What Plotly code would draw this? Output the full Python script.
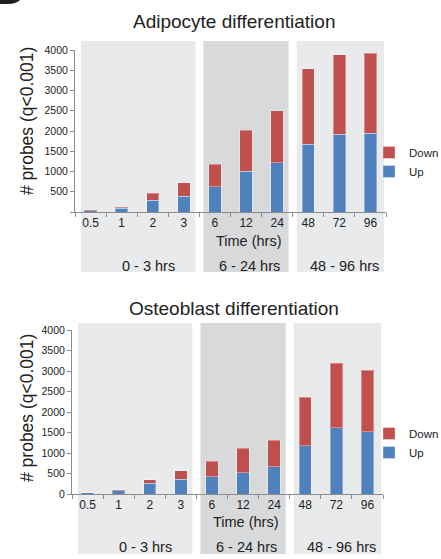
import plotly.graph_objects as go

categories = ["0.5", "1", "2", "3", "6", "12", "24", "48", "72", "96"]
adipo_up = [30, 90, 295, 390, 618, 1005, 1222, 1672, 1918, 1940]
adipo_total = [48, 115, 465, 718, 1175, 2020, 2500, 3540, 3885, 3915]
osteo_up = [30, 80, 266, 363, 419, 524, 669, 1183, 1620, 1523]
osteo_total = [34, 105, 347, 572, 798, 1120, 1314, 2357, 3191, 3021]
adipo_down = [t - u for t, u in zip(adipo_total, adipo_up)]
osteo_down = [t - u for t, u in zip(osteo_total, osteo_up)]

ytick_vals = [0, 500, 1000, 1500, 2000, 2500, 3000, 3500, 4000]
ytick_text_top = [""] + [str(v) for v in ytick_vals[1:]]
ytick_text_bottom = [str(v) for v in ytick_vals]
group_labels = ["0 - 3 hrs", "6 - 24 hrs", "48 - 96 hrs"]
group_label_pos = [1.87, 5.12, 8.15]
titles = ["Adipocyte differentiation", "Osteoblast differentiation"]

RED = "#c0504d"
BLUE = "#4f81bd"
FONT = "Liberation Sans, Arial, sans-serif"
W, H = 441, 559

fig = go.Figure()
for ax, up, down, leg in [("", adipo_up, adipo_down, "legend"),
                          ("2", osteo_up, osteo_down, "legend2")]:
    fig.add_trace(go.Bar(x=categories, y=up, name="Up", marker_color=BLUE,
                         marker_line=dict(color="rgba(255,255,255,0.35)", width=1),
                         xaxis="x" + ax, yaxis="y" + ax, legend=leg))
    fig.add_trace(go.Bar(x=categories, y=down, name="Down", marker_color=RED,
                         marker_line=dict(color="rgba(255,255,255,0.35)", width=1),
                         xaxis="x" + ax, yaxis="y" + ax, legend=leg))

def px_x(p):
    return p / W

def px_y(p):
    return (H - p) / H

# subplot pixel geometry: (x_left, x_right, y_top(4000), y_bottom(0))
geo = {"": (75, 386, 50, 212), "2": (72, 383, 330, 494)}

axis_common = dict(linecolor="#8c8c8c", linewidth=1, ticks="outside", ticklen=4,
                   tickcolor="#8c8c8c", showgrid=False, zeroline=False,
                   tickfont=dict(family=FONT, size=12, color="#222"))

layout = dict(width=W, height=H, barmode="stack", bargap=0.6,
              margin=dict(l=0, r=0, t=0, b=0, autoexpand=False), paper_bgcolor="white",
              plot_bgcolor="rgba(0,0,0,0)", font=dict(family=FONT, color="#222"),
              showlegend=True)

shapes = []
annotations = []
panel_ranges = [(-0.31, 3.37, "#e9eaeb"), (3.63, 6.37, "#d8d9db"), (6.63, 9.44, "#e9eaeb")]
panel_y = {"": (41, 272), "2": (323, 554)}
legend_y = {"": 138, "2": 419}
title_y = {"": 21, "2": 308}
time_y = {"": 241, "2": 522}
group_y = {"": 266, "2": 547}

for ax, ticktext in [("", ytick_text_top), ("2", ytick_text_bottom)]:
    xl, xr, yt, yb = geo[ax]
    layout["xaxis" + ax] = dict(axis_common, domain=[px_x(xl), px_x(xr)], type="category",
                                range=[-0.5, 9.5], tickson="boundaries",
                                anchor="y" + ax, fixedrange=True)
    layout["yaxis" + ax] = dict(axis_common, domain=[px_y(yb), px_y(yt)], range=[0, 4000],
                                tickvals=ytick_vals, ticktext=ticktext,
                                tickfont=dict(family=FONT, size=10.5, color="#222"),
                                anchor="x" + ax, fixedrange=True)
    pt, pb = panel_y[ax]
    span = yb - yt
    for x0, x1, col in panel_ranges:
        shapes.append(dict(type="rect", xref="x%s domain" % ax, yref="y%s domain" % ax,
                           x0=(x0 + 0.5) / 10, x1=(x1 + 0.5) / 10,
                           y0=(yb - pb) / span, y1=(yb - pt) / span,
                           fillcolor=col, line_width=0, layer="below"))
    annotations.append(dict(text=titles[0 if ax == "" else 1], xref="paper", yref="paper",
                            x=px_x(234), y=px_y(title_y[ax]), showarrow=False,
                            xanchor="center", yanchor="middle",
                            font=dict(family=FONT, size=19, color="#222")))
    annotations.append(dict(text="# probes (q<0.001)", xref="paper", yref="paper",
                            x=px_x(27), y=px_y((yt + yb) / 2 - 10 + (0 if ax == "" else 6)),
                            showarrow=False, textangle=-90, xanchor="center", yanchor="middle",
                            font=dict(family=FONT, size=17.5, color="#222")))
    annotations.append(dict(text="Time (hrs)", xref="x" + ax, yref="paper",
                            x=5.08, y=px_y(time_y[ax]), showarrow=False,
                            xanchor="center", yanchor="middle",
                            font=dict(family=FONT, size=14.5, color="#222")))
    for lab, pos in zip(group_labels, group_label_pos):
        annotations.append(dict(text=lab, xref="x" + ax, yref="paper",
                                x=pos, y=px_y(group_y[ax]), showarrow=False,
                                xanchor="center", yanchor="middle",
                                font=dict(family=FONT, size=14.5, color="#222")))
    leg = "legend" if ax == "" else "legend2"
    layout[leg] = dict(x=px_x(369), y=px_y(legend_y[ax]), xanchor="left", yanchor="top",
                       traceorder="reversed", bgcolor="rgba(0,0,0,0)",
                       font=dict(family=FONT, size=11.5, color="#222"))

# panel-letter tab remnant at top-left
shapes.append(dict(type="path", xref="paper", yref="paper",
                   path="M 0 1 L %f 1 Q %f %f %f %f L 0 %f Z" % (
                       px_x(20), px_x(16), px_y(4), px_x(8), px_y(4), px_y(4)),
                   fillcolor="#231f20", line_width=0))

layout["shapes"] = shapes
layout["annotations"] = annotations
fig.update_layout(**layout)
fig.write_html("out.html", config={"displayModeBar": False},
               post_script="document.body.style.margin='0';document.body.style.overflow='hidden';")
